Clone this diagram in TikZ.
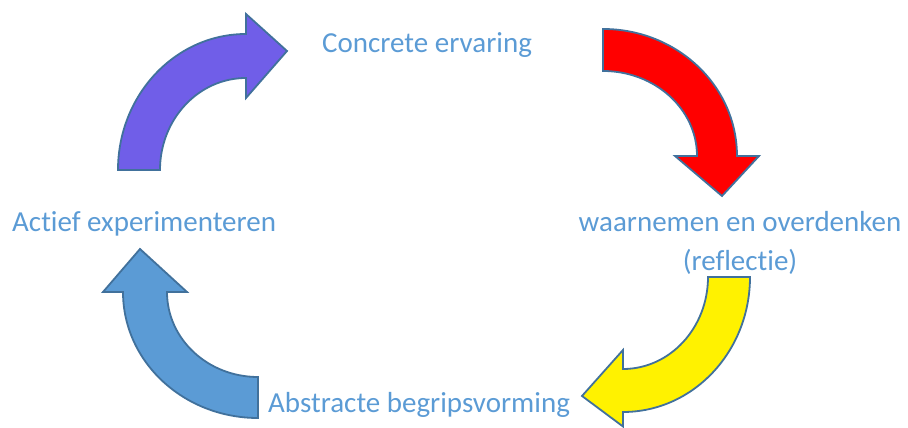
\documentclass[tikz,border=0pt]{standalone}
\usepackage{fontspec}
\setmainfont{Carlito}[Ligatures=NoCommon]
\definecolor{tekstblauw}{RGB}{91,155,213}
\definecolor{randblauw}{RGB}{65,113,156}
\definecolor{paars}{RGB}{112,94,232}
\definecolor{pijlblauw}{RGB}{91,155,213}
\tikzset{
  pijl/.style={draw=randblauw, line width=1.8pt, line join=miter},
  tekst/.style={text=tekstblauw, font=\fontsize{29}{39}\selectfont, inner sep=0pt}
}
\begin{document}
\begin{tikzpicture}[x=1pt,y=1pt]
        \useasboundingbox (0,0) rectangle (908,428);

        % Teksten
        \node[tekst, anchor=base west] (concreet) at (322,375) {Concrete ervaring};
        \node[tekst, anchor=base west] (actief) at (12,196) {Actief experimenteren};
        \node[tekst, anchor=base, align=center] (waarnemen) at (740,157)
            {waarnemen en overdenken\\(reflectie)};
        \node[tekst, anchor=base west] (abstract) at (268,15) {Abstracte begripsvorming};

        % Pijl boven links (paars)
        \draw[pijl, fill=paars] (118,258)
            arc[start angle=180, end angle=90, x radius=128pt, y radius=136pt]
            -- (246,414) -- (287,377) -- (246,330) -- (246,350)
            arc[start angle=90, end angle=180, x radius=86pt, y radius=92pt]
            -- cycle;

        % Pijl boven rechts (rood)
        \draw[pijl, fill=red] (603,399)
            arc[start angle=90, end angle=0, x radius=134pt, y radius=127pt]
            -- (759,272) -- (722,232) -- (675,272) -- (697,272)
            arc[start angle=0, end angle=90, x radius=94pt, y radius=85pt]
            -- cycle;

        % Pijl onder rechts (geel)
        \draw[pijl, fill=yellow] (750,151)
            arc[start angle=0, end angle=-90, x radius=127pt, y radius=135pt]
            -- (623,1.5) -- (582,32) -- (623,78) -- (623,59)
            arc[start angle=-90, end angle=0, x radius=85pt, y radius=92pt]
            -- cycle;

        % Pijl onder links (blauw)
        \draw[pijl, fill=pijlblauw] (258,10)
            arc[start angle=-90, end angle=-180, x radius=135pt, y radius=126pt]
            -- (103,136) -- (140,179) -- (187,136) -- (167,136)
            arc[start angle=180, end angle=270, x radius=91pt, y radius=85pt]
            -- cycle;
\end{tikzpicture}
\end{document}
